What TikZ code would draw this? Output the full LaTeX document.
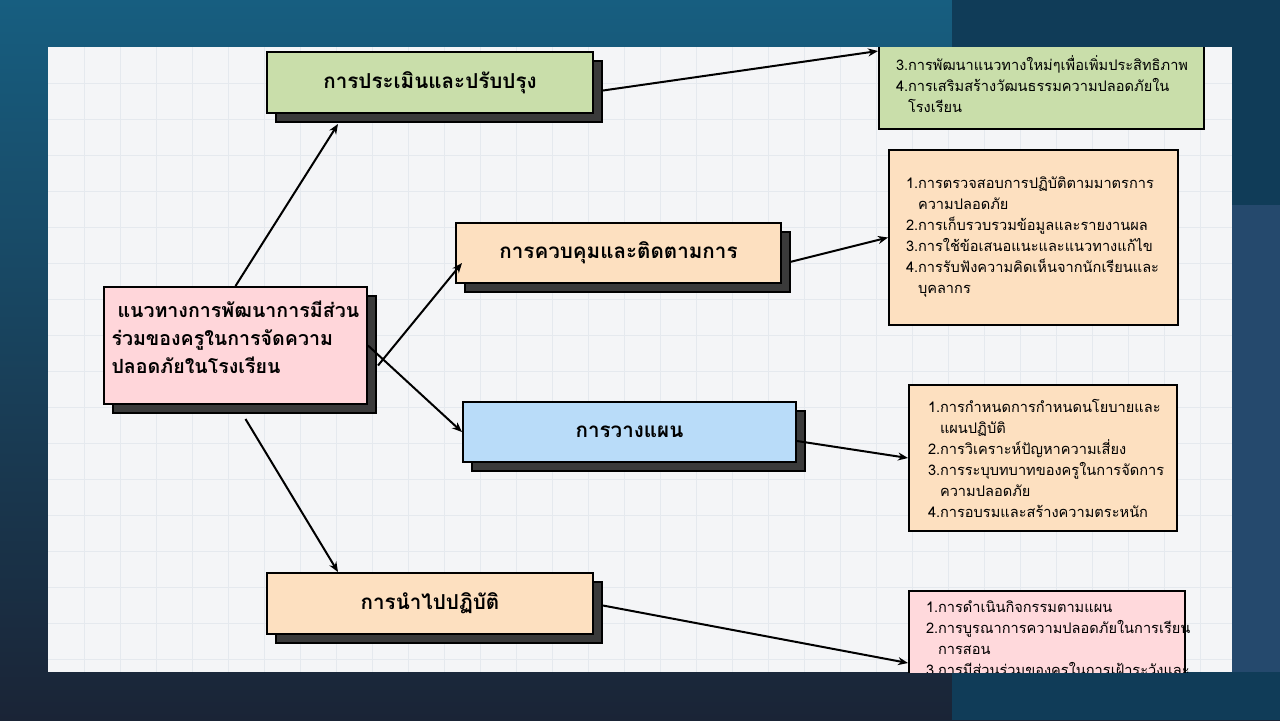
\documentclass[tikz,border=0pt]{standalone}
\usepackage{fontspec}
\setmainfont[Script=Thai]{Loma}
\usetikzlibrary{arrows.meta, positioning, calc, shadows}
\definecolor{bgteal}{RGB}{23, 94, 128}
\definecolor{bgnavy}{RGB}{26, 36, 54}
\definecolor{bandteal}{RGB}{16, 60, 88}
\definecolor{bandblue}{RGB}{37, 73, 109}
\definecolor{paperwhite}{RGB}{244, 245, 247}
\definecolor{gridgray}{RGB}{229, 233, 238}
\definecolor{shadowgray}{RGB}{58, 58, 58}
\definecolor{mainpink}{RGB}{255, 214, 218}
\definecolor{evalgreen}{RGB}{201, 222, 170}
\definecolor{peach}{RGB}{253, 224, 192}
\definecolor{planblue}{RGB}{185, 220, 249}
\definecolor{listpink}{RGB}{255, 217, 220}
\newcommand{\itemno}[1]{\makebox[6pt][l]{#1}}
\newcommand{\itemcont}{\hspace*{6pt}}

\begin{document}
\begin{tikzpicture}[x=0.5pt, y=-0.5pt,
  titlebox/.style={draw=black, line width=1pt, font=\bfseries\fontsize{10.3}{14}\selectfont,
    inner sep=3pt, drop shadow={shadow xshift=4.5pt, shadow yshift=-4.5pt, fill=shadowgray, draw=black, opacity=1}},
  listbox/.style={draw=black, line width=1pt, font=\fontsize{7.3}{10.5}\selectfont, align=left},
  linkarrow/.style={draw=black, line width=1pt, -{Stealth[length=5pt, width=4pt]}}]
  \useasboundingbox (0,0) rectangle (1280,720);

  % Background and paper
  \shade[top color=bgteal, bottom color=bgnavy] (0,0) rectangle (1280,720);
  \fill[bandteal] (952,0) rectangle (1280,720);
  \fill[bandblue] (1232,205) rectangle (1280,672);
  \fill[paperwhite] (48,47) rectangle (1232,672);
  \foreach \gx in {84,120,...,1230} \draw[gridgray, line width=0.4pt] (\gx,47) -- (\gx,672);
  \foreach \gy in {83,119,...,670} \draw[gridgray, line width=0.4pt] (48,\gy) -- (1232,\gy);

  % Main topic
  \node[titlebox, fill=mainpink, minimum width=131.5pt, minimum height=58.5pt, text width=124pt, align=left, inner sep=3.5pt,
    font=\bfseries\fontsize{9.8}{14}\selectfont] (main) at (235.5,345.5)
    {\hspace*{3pt}แนวทางการพัฒนาการมีส่วน\\ร่วมของครูในการจัดความ\\ปลอดภัยในโรงเรียน\\[-6pt]\mbox{}};

  % Steps
  \node[titlebox, fill=evalgreen, minimum width=163pt, minimum height=30.5pt] (evaluate) at (430,82.5) {การประเมินและปรับปรุง};
  \node[titlebox, fill=peach, minimum width=162.5pt, minimum height=30pt] (monitor) at (618.5,253) {การควบคุมและติดตามการ};
  \node[titlebox, fill=planblue, minimum width=166.5pt, minimum height=30pt] (plan) at (629.5,432) {การวางแผน};
  \node[titlebox, fill=peach, minimum width=163pt, minimum height=30.5pt] (implement) at (430,603.5) {การนำไปปฏิบัติ};

  % Details
  \node[listbox, fill=peach, anchor=west, minimum width=144.5pt, minimum height=87.5pt, inner xsep=8.5pt, text width=127.5pt] (monitorlist) at (888,237.5)
    {\itemno{1.}การตรวจสอบการปฏิบัติตามมาตรการ\\\itemcont ความปลอดภัย\\\itemno{2.}การเก็บรวบรวมข้อมูลและรายงานผล\\\itemno{3.}การใช้ข้อเสนอแนะและแนวทางแก้ไข\\\itemno{4.}การรับฟังความคิดเห็นจากนักเรียนและ\\\itemcont บุคลากร};
  \node[listbox, fill=peach, anchor=west, minimum width=134pt, minimum height=73pt, inner xsep=9.5pt, text width=115pt] (planlist) at (908,458)
    {\itemno{1.}การกำหนดการกำหนดนโยบายและ\\\itemcont แผนปฏิบัติ\\\itemno{2.}การวิเคราะห์ปัญหาความเสี่ยง\\\itemno{3.}การระบุบทบาทของครูในการจัดการ\\\itemcont ความปลอดภัย\\\itemno{4.}การอบรมและสร้างความตระหนัก};
  \begin{scope}
    \clip (48,47) rectangle (1232,672);
    \node[listbox, fill=evalgreen, anchor=south west, minimum width=162.5pt, inner xsep=8.5pt, inner ysep=8pt, text width=145.5pt] (evallist) at (878,130)
      {\itemno{3.}การพัฒนาแนวทางใหม่ๆเพื่อเพิ่มประสิทธิภาพ\\\itemno{4.}การเสริมสร้างวัฒนธรรมความปลอดภัยใน\\\itemcont โรงเรียน};
    \node[listbox, fill=listpink, anchor=north west, minimum width=138pt, inner xsep=8.5pt, inner ysep=5pt, text width=121pt] (implist) at (908,590)
      {\itemno{1.}การดำเนินกิจกรรมตามแผน\\\itemno{2.}การบูรณาการความปลอดภัยในการเรียน\\\itemcont การสอน\\\itemno{3.}การมีส่วนร่วมของครูในการเฝ้าระวังและ};
  \end{scope}

  % Arrows
  \draw[linkarrow] (main.north) -- ([xshift=-46pt, yshift=-5pt]evaluate.south);
  \draw[linkarrow] ([xshift=5pt, yshift=-10pt]main.east) -- ([xshift=3.5pt, yshift=-5pt]monitor.west);
  \draw[linkarrow] (main.east) -- (plan.west);
  \draw[linkarrow] ([xshift=5pt, yshift=-7pt]main.south) -- ([xshift=-46pt]implement.north);
  \draw[linkarrow] ([xshift=4.5pt, yshift=-4pt]evaluate.east) -- (evallist.west |- evaluate.north);
  \draw[linkarrow] ([xshift=4pt, yshift=-4.5pt]monitor.east) -- (monitorlist.west);
  \draw[linkarrow] ([yshift=-4.5pt]plan.east) -- (planlist.west);
  \draw[linkarrow] ([xshift=4.5pt, yshift=-1pt]implement.east) -- ([yshift=-36.5pt]implist.north west);
\end{tikzpicture}
\end{document}
